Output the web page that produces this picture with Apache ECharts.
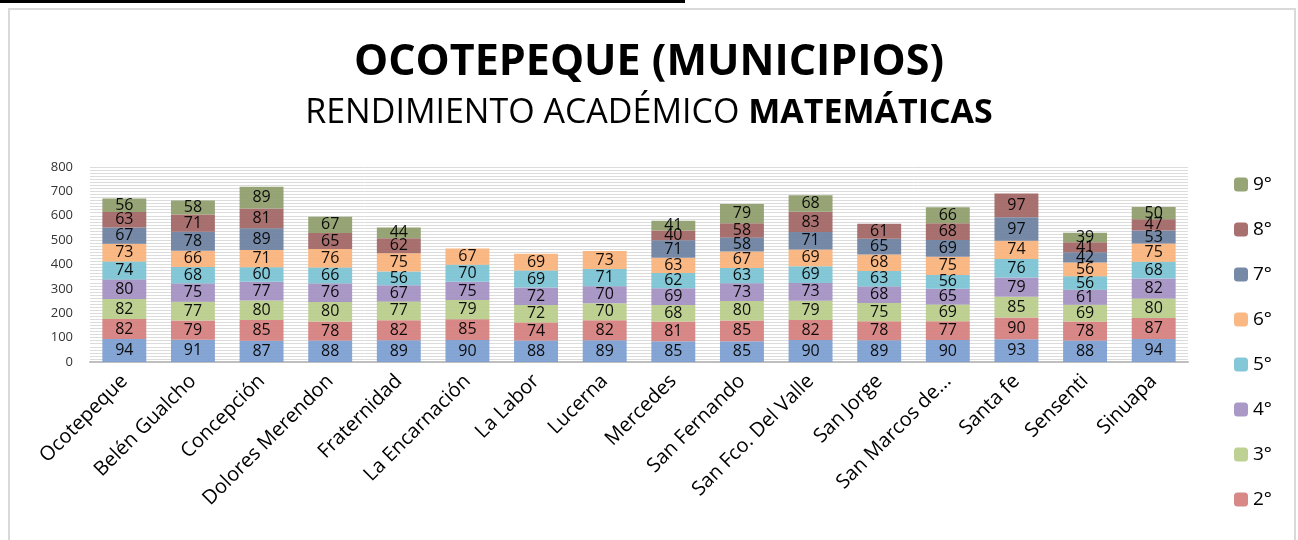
<!DOCTYPE html>
<html>
<head>
<meta charset="utf-8">
<script src="https://cdn.jsdelivr.net/npm/echarts@6/dist/echarts.min.js"></script>
<style>
  html, body { margin: 0; padding: 0; background: #fff; }
  #chart { width: 1298px; height: 540px; }
</style>
</head>
<body>
<div id="chart"></div>
<script>
const categories = ['Ocotepeque', 'Belén Gualcho', 'Concepción', 'Dolores Merendon', 'Fraternidad',
  'La Encarnación', 'La Labor', 'Lucerna', 'Mercedes', 'San Fernando', 'San Fco. Del Valle',
  'San Jorge', 'San Marcos de...', 'Santa fe', 'Sensenti', 'Sinuapa'];

const grade1 = [94, 91, 87, 88, 89, 90, 88, 89, 85, 85, 90, 89, 90, 93, 88, 94];
const grade2 = [82, 79, 85, 78, 82, 85, 74, 82, 81, 85, 82, 78, 77, 90, 78, 87];
const grade3 = [82, 77, 80, 80, 77, 79, 72, 70, 68, 80, 79, 75, 69, 85, 69, 80];
const grade4 = [80, 75, 77, 76, 67, 75, 72, 70, 69, 73, 73, 68, 65, 79, 61, 82];
const grade5 = [74, 68, 60, 66, 56, 70, 69, 71, 62, 63, 69, 63, 56, 76, 56, 68];
const grade6 = [73, 66, 71, 76, 75, 67, 69, 73, 63, 67, 69, 68, 75, 74, 56, 75];
const grade7 = [67, 78, 89, null, null, null, null, null, 71, 58, 71, 65, 69, 97, 42, 53];
const grade8 = [63, 71, 81, 65, 62, null, null, null, 40, 58, 83, 61, 68, 97, 41, 47];
const grade9 = [56, 58, 89, 67, 44, null, null, null, 41, 79, 68, null, 66, null, 39, 50];

const seriesNames = ['1°', '2°', '3°', '4°', '5°', '6°', '7°', '8°', '9°'];
const seriesData = [grade1, grade2, grade3, grade4, grade5, grade6, grade7, grade8, grade9];
const colors = ['#7b9dd0', '#d47e7d', '#b8cd8a', '#a390c1', '#79c2d3', '#f9b27a', '#6a809f', '#a16564', '#8d9c6a'];

// legend in the picture is cut off below 2°
const legendNames = ['9°', '8°', '7°', '6°', '5°', '4°', '3°', '2°'];

const yTicks = [0, 100, 200, 300, 400, 500, 600, 700, 800];

const FONT = 'Open Sans';

const chart = echarts.init(document.getElementById('chart'));

const series = seriesData.map((data, i) => ({
  name: seriesNames[i],
  type: 'bar',
  stack: 'total',
  barCategoryGap: '36%',
  data: data,
  itemStyle: { color: colors[i], opacity: 0.92 },
  label: {
    show: true,
    position: 'inside',
    color: '#000',
    fontFamily: FONT,
    fontSize: 16,
    formatter: p => (p.value == null ? '' : p.value)
  }
}));

const option = {
  animation: false,
  color: colors,
  title: [
    {
      text: 'OCOTEPEQUE (MUNICIPIOS)',
      left: 'center',
      top: 36,
      textStyle: { fontFamily: FONT, fontWeight: 'bold', fontSize: 43, color: '#000' }
    },
    {
      text: '{n|RENDIMIENTO ACADÉMICO }{b|MATEMÁTICAS}',
      left: 'center',
      top: 91,
      textStyle: {
        fontWeight: 'normal',
        rich: {
          n: { fontFamily: FONT, fontSize: 34, fontWeight: 'normal', color: '#000' },
          b: { fontFamily: FONT, fontSize: 34, fontWeight: 'bold', color: '#000' }
        }
      }
    }
  ],
  legend: {
    orient: 'vertical',
    left: 1229,
    top: 170,
    height: 600,
    itemWidth: 14,
    itemHeight: 14,
    itemGap: 26,
    data: legendNames,
    textStyle: { fontFamily: FONT, fontSize: 19, color: '#000' }
  },
  grid: { left: 90, right: 110, top: 167, bottom: 178 },
  xAxis: {
    type: 'category',
    data: categories,
    axisLine: { lineStyle: { color: '#bfbfbf', width: 2 } },
    axisTick: { show: false },
    axisLabel: {
      rotate: 45,
      interval: 0,
      margin: 16,
      fontFamily: FONT,
      fontSize: 20,
      color: '#000'
    }
  },
  yAxis: {
    type: 'value',
    min: yTicks[0],
    max: yTicks[yTicks.length - 1],
    interval: 100,
    axisLine: { show: false },
    axisTick: { show: false },
    axisLabel: { fontFamily: FONT, fontSize: 13, color: '#333', margin: 17 },
    splitLine: { lineStyle: { color: '#dcdcdc', width: 1 } },
    minorTick: { show: false, splitNumber: 8 },
    minorSplitLine: { show: true, lineStyle: { color: '#dcdcdc', width: 1 } }
  },
  graphic: [
    {
      type: 'rect',
      shape: { x: 9, y: 9, width: 1286, height: 560 },
      style: { fill: 'none', stroke: '#d9d9d9', lineWidth: 2 },
      silent: true
    },
    {
      type: 'rect',
      shape: { x: 0, y: 0, width: 685, height: 3 },
      style: { fill: '#000' },
      silent: true
    }
  ],
  series: series
};

chart.setOption(option);
</script>
</body>
</html>
